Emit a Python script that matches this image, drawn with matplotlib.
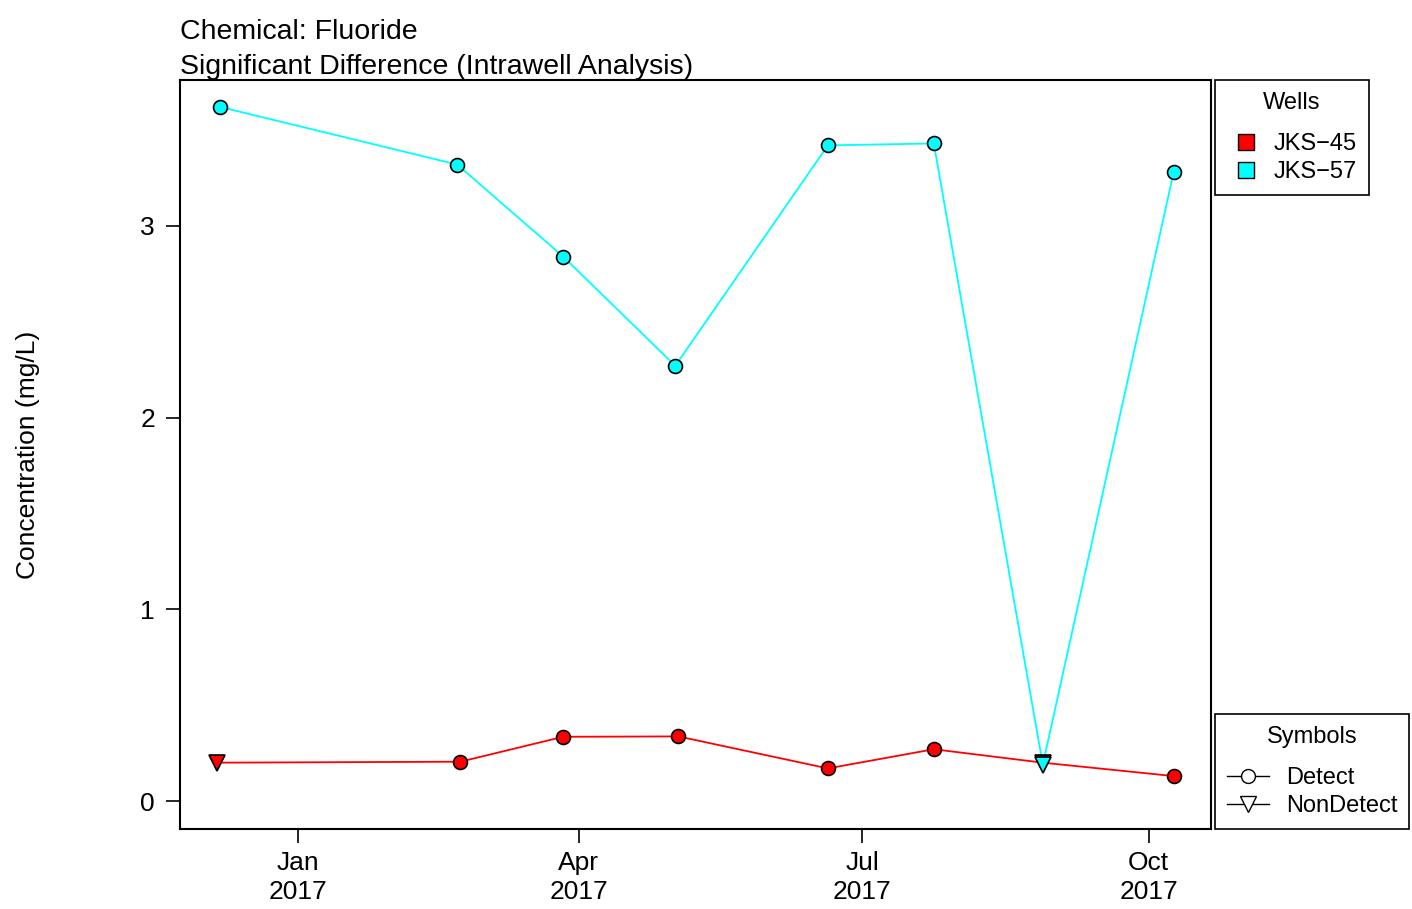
import matplotlib
matplotlib.use("Agg")
import matplotlib.pyplot as plt
from matplotlib.lines import Line2D
from matplotlib.patches import Patch, Rectangle
from matplotlib.legend_handler import HandlerPatch
import numpy as np

plt.rcParams['font.family'] = ['Liberation Sans', 'DejaVu Sans']

# well JKS-45
dates_45 = ["2016-12-06", "2017-02-22", "2017-03-27", "2017-05-03",
            "2017-06-20", "2017-07-24", "2017-08-28", "2017-10-09"]
conc_45 = [0.20, 0.205, 0.335, 0.337, 0.17, 0.27, 0.20, 0.13]
nd_45 = [True, False, False, False, False, False, True, False]

# well JKS-57
dates_57 = ["2016-12-07", "2017-02-21", "2017-03-27", "2017-05-02",
            "2017-06-20", "2017-07-24", "2017-08-28", "2017-10-09"]
conc_57 = [3.62, 3.32, 2.84, 2.27, 3.42, 3.43, 0.19, 3.28]
nd_57 = [False, False, False, False, False, False, True, False]

wells = ["JKS\u221245", "JKS\u221257"]
colors = ["#FF0000", "#00FFFF"]

fig = plt.figure(figsize=(14.12, 9.09), dpi=100)
ax = fig.add_axes([180/1412, 1-829/909, (1211-180)/1412, (829-80)/909])

for d, c, nd, col in [(dates_45, conc_45, nd_45, colors[0]),
                      (dates_57, conc_57, nd_57, colors[1])]:
    x = np.array(d, dtype="datetime64[D]")
    y = np.array(c)
    nd = np.array(nd)
    ax.plot(x, y, color=col, lw=1.3, zorder=2)
    ax.plot(x[~nd], y[~nd], 'o', ms=10, mfc=col, mec='black', mew=1.2, ls='none', zorder=3)
    ax.plot(x[nd], y[nd], 'v', ms=11.5, mfc=col, mec='black', mew=1.2, ls='none', zorder=3)

ax.set_xlim(np.datetime64("2016-11-24"), np.datetime64("2017-10-21"))
ax.set_ylim(-0.146, 3.761)
ax.set_yticks([0, 1, 2, 3])
ax.set_yticklabels(["0", "1", "2", "3"])
ticks = np.array(["2017-01-01", "2017-04-01", "2017-07-01", "2017-10-01"], dtype="datetime64[D]")
ax.set_xticks(ticks)
ax.set_xticklabels(["Jan\n2017", "Apr\n2017", "Jul\n2017", "Oct\n2017"], linespacing=1.25)
ax.tick_params(direction='out', length=10, width=1.2, labelsize=19)
ax.tick_params(axis='x', pad=6)
ax.tick_params(axis='y', pad=8)
for s in ax.spines.values():
    s.set_linewidth(1.5)
ax.set_ylabel("Concentration (mg/L)", fontsize=19)
ax.yaxis.set_label_coords((40-180)/1031, 0.5)

fig.text(180/1412, 1-32/909, "Chemical: Fluoride", fontsize=20.5, va='center', ha='left')
fig.text(180/1412, 1-67/909, "Significant Difference (Intrawell Analysis)", fontsize=20.5, va='center', ha='left')


def square(legend, orig_handle, xdescent, ydescent, width, height, fontsize):
    s = height * 0.95
    return Rectangle((width - s - xdescent, -ydescent + (height - s) / 2), s, s)


well_handles = [Patch(facecolor=colors[i], edgecolor='black', label=wells[i]) for i in range(2)]
leg1 = fig.legend(handles=well_handles, title="Wells", loc='upper left',
                  bbox_to_anchor=(1215/1412, 1-80/909), fontsize=17, title_fontsize=17,
                  fancybox=False, edgecolor='black', framealpha=1, handlelength=1.15,
                  handleheight=0.75, handletextpad=0.85, borderpad=0.5, labelspacing=0.25,
                  borderaxespad=0, handler_map={Patch: HandlerPatch(patch_func=square)})
leg1._legend_box.sep = 14
leg1.get_frame().set_linewidth(1.2)

sym_handles = [Line2D([], [], color='black', marker='o', mfc='white', mec='black', ms=10, lw=1, label="Detect"),
               Line2D([], [], color='black', marker='v', mfc='white', mec='black', ms=11, lw=1, label="NonDetect")]
leg2 = fig.legend(handles=sym_handles, title="Symbols", loc='lower left',
                  bbox_to_anchor=(1215/1412, 1-829/909), fontsize=17, title_fontsize=17,
                  fancybox=False, edgecolor='black', framealpha=1, handlelength=1.8,
                  handletextpad=0.7, borderpad=0.5, labelspacing=0.25, borderaxespad=0)
leg2._legend_box.sep = 14
leg2.get_frame().set_linewidth(1.2)

fig.savefig("out.png", dpi=100)
